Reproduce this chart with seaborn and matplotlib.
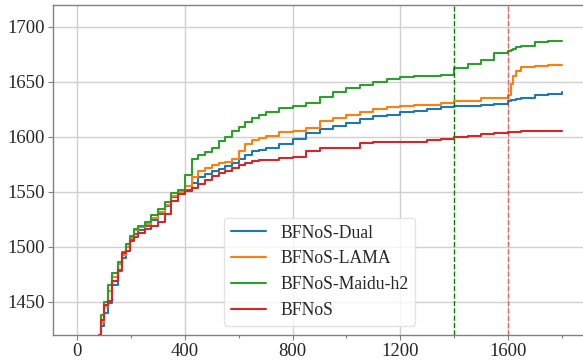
import matplotlib
matplotlib.use("Agg")
import matplotlib.pyplot as plt
import seaborn as sns
import pandas as pd
from matplotlib.ticker import MultipleLocator

x = [60, 80, 90, 100, 115, 130, 150, 165, 180, 195, 210, 225, 250, 275, 300, 325, 350, 375,
     400, 425, 450, 475, 500, 525, 550, 575, 600, 625, 650, 675, 700, 750, 800, 850, 900, 950,
     1000, 1050, 1100, 1150, 1200, 1250, 1300, 1350, 1400, 1450, 1500, 1550, 1600, 1610, 1620,
     1630, 1650, 1700, 1750, 1800]

dual = [1372, 1410, 1428, 1440, 1449, 1465, 1478, 1490, 1500, 1506, 1512, 1515, 1519, 1524, 1530,
        1537, 1545, 1549, 1552, 1558, 1563, 1566, 1569, 1571, 1573, 1576, 1580, 1583, 1587, 1588,
        1590, 1593, 1598, 1603, 1607, 1610, 1612, 1616, 1619, 1620, 1622, 1623, 1625, 1627, 1628,
        1628, 1629, 1630, 1632, 1633, 1633.5, 1634, 1635, 1638, 1639, 1640.5]

lama = [1375, 1415, 1432, 1446, 1460, 1473, 1484, 1493, 1500, 1508, 1515, 1518, 1521, 1526, 1532,
        1538, 1546, 1550, 1555, 1563, 1569, 1572, 1574, 1576, 1577, 1580, 1587, 1593, 1597, 1599,
        1601, 1604, 1605, 1608, 1614, 1617, 1620, 1622, 1625, 1627, 1628, 1629, 1629, 1631, 1632,
        1632, 1635, 1635, 1638, 1648, 1655, 1660, 1663, 1664, 1665.5, 1665.5]

maidu = [1380, 1420, 1438, 1450, 1465, 1476, 1486, 1495, 1503, 1510, 1516, 1519, 1523, 1529, 1534,
         1541, 1549, 1552, 1565, 1580, 1583, 1586, 1590, 1596, 1600, 1605, 1609, 1613, 1617, 1620,
         1622, 1626, 1628, 1631, 1636, 1641, 1644, 1647, 1650, 1652, 1654, 1655, 1655, 1656, 1662,
         1666, 1670, 1676, 1678, 1679, 1680, 1681, 1682, 1686, 1687, 1687]

base = [1385, 1420, 1434, 1447, 1451, 1469, 1479, 1494, 1496, 1505, 1509, 1513, 1516, 1519, 1523,
        1530, 1542, 1548, 1551, 1553, 1557, 1561, 1564, 1567, 1569, 1572, 1574, 1576, 1578, 1579,
        1579, 1581, 1582, 1587, 1590, 1590, 1590, 1594, 1595, 1595, 1595, 1595, 1597, 1598, 1600,
        1601, 1602, 1603, 1604, 1604, 1604, 1604, 1605, 1605, 1605, 1605]

names = ["BFNoS-Dual", "BFNoS-LAMA", "BFNoS-Maidu-h2", "BFNoS"]
colors = ["#1f77b4", "#ff7f0e", "#2ca02c", "#d62728"]
series = [dual, lama, maidu, base]
vlines = [1400, 1600]
vcolors = ["green", "red"]
vlalpha = [1.0, 0.5]

frames = [pd.DataFrame({"x": x, "y": s, "method": n}) for n, s in zip(names, series)]
df = pd.concat(frames, ignore_index=True)

sns.set_style("whitegrid", {"grid.color": "#d0d0d0", "axes.edgecolor": "#808080"})
plt.rcParams["font.family"] = ["Liberation Serif", "DejaVu Serif"]
plt.rcParams["font.serif"] = ["Liberation Serif", "DejaVu Serif"]
plt.rcParams["font.sans-serif"] = ["Liberation Serif", "DejaVu Sans"]
plt.rcParams["axes.formatter.use_mathtext"] = False

fig = plt.figure(figsize=(5.83, 3.6), dpi=100)
ax = fig.add_axes([53 / 583, 25 / 360, 533 / 583, 330.5 / 360])

sns.lineplot(data=df, x="x", y="y", hue="method", hue_order=names, palette=colors,
             drawstyle="steps-post", linewidth=1.5, ax=ax, estimator=None, sort=False)

for v, c, a in zip(vlines, vcolors, vlalpha):
    ax.axvline(v, color=c, linestyle="--", linewidth=1.0, alpha=a)

ax.set_xlim(-90, 1890)
ax.set_ylim(1420, 1720)
ax.xaxis.set_major_locator(MultipleLocator(400))
ax.xaxis.set_minor_locator(MultipleLocator(200))
ax.yaxis.set_major_locator(MultipleLocator(50))
ax.grid(True, which="major", color="#d0d0d0", linewidth=1.0)
ax.grid(False, which="minor")
ax.tick_params(axis="both", which="major", direction="out", length=3.5, width=0.8,
               color="#808080", labelsize=13.5, pad=2.5, bottom=True, left=True)
ax.tick_params(axis="x", which="minor", direction="out", length=2.5, width=0.8,
               color="#808080", bottom=True)
ax.set_xlabel("")
ax.set_ylabel("")
for sp in ax.spines.values():
    sp.set_color("#808080")
    sp.set_linewidth(1.0)

for t in ax.xaxis.get_major_ticks() + ax.yaxis.get_major_ticks():
    t.label1.set_fontfamily(["Liberation Serif", "DejaVu Serif"])

handles, labels = ax.get_legend_handles_labels()
ax.legend(handles, labels, loc="lower center", fontsize=12.7, frameon=True,
          framealpha=0.8, edgecolor="#dddddd", fancybox=True)

fig.savefig("out.png", dpi=100)
